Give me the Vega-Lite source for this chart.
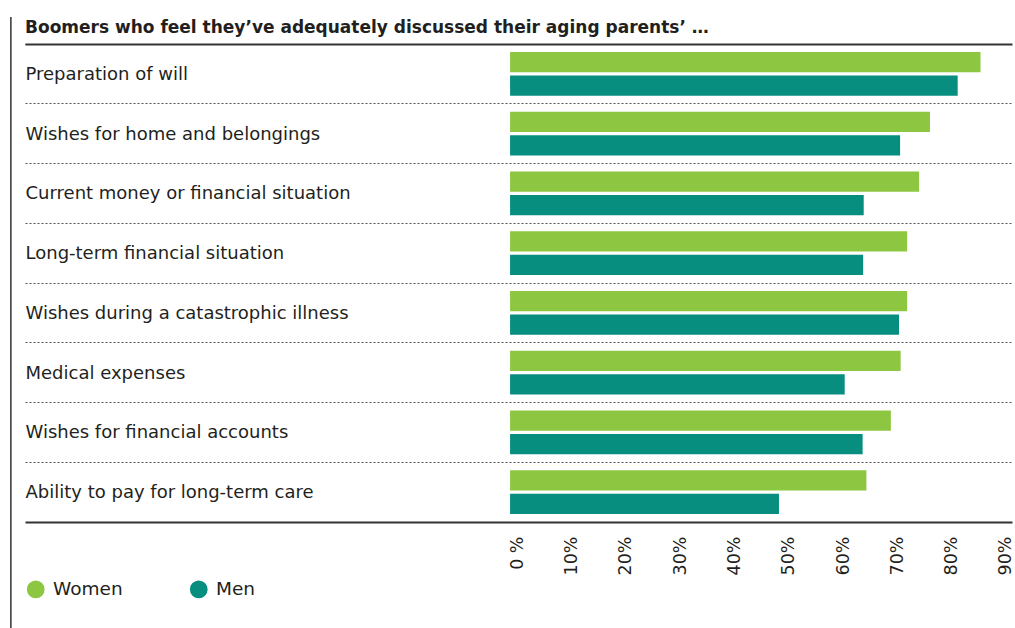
{
  "$schema": "https://vega.github.io/schema/vega-lite/v6.json",
  "width": 987,
  "height": 478,
  "autosize": {"type": "none"},
  "padding": {"left": 25, "top": 44, "right": 3, "bottom": 106},
  "title": {
    "text": "Boomers who feel they\u2019ve adequately discussed their aging parents\u2019 \u2026",
    "anchor": "start",
    "frame": "group",
    "font": "DejaVu Sans",
    "fontSize": 17,
    "fontWeight": "bold",
    "color": "#231F20",
    "baseline": "alphabetic",
    "offset": -15,
    "dy": 19
  },
  "config": {
    "view": {"stroke": null},
    "font": "DejaVu Sans"
  },
  "datasets": {
    "bars": [
      {"category": "Preparation of will", "gender": "Women", "value": 86.6},
      {"category": "Preparation of will", "gender": "Men", "value": 82.4},
      {"category": "Wishes for home and belongings", "gender": "Women", "value": 77.3},
      {"category": "Wishes for home and belongings", "gender": "Men", "value": 71.8},
      {"category": "Current money or financial situation", "gender": "Women", "value": 75.3},
      {"category": "Current money or financial situation", "gender": "Men", "value": 65.1},
      {"category": "Long-term financial situation", "gender": "Women", "value": 73.1},
      {"category": "Long-term financial situation", "gender": "Men", "value": 65.0},
      {"category": "Wishes during a catastrophic illness", "gender": "Women", "value": 73.1},
      {"category": "Wishes during a catastrophic illness", "gender": "Men", "value": 71.6},
      {"category": "Medical expenses", "gender": "Women", "value": 71.9},
      {"category": "Medical expenses", "gender": "Men", "value": 61.6},
      {"category": "Wishes for financial accounts", "gender": "Women", "value": 70.1},
      {"category": "Wishes for financial accounts", "gender": "Men", "value": 64.9},
      {"category": "Ability to pay for long-term care", "gender": "Women", "value": 65.6},
      {"category": "Ability to pay for long-term care", "gender": "Men", "value": 49.5}
    ]
  },
  "resolve": {"scale": {"y": "independent"}, "axis": {"x": "independent"}},
  "layer": [
    {
      "data": {"name": "bars"},
      "mark": {"type": "bar"},
      "encoding": {
        "y": {
          "field": "category",
          "type": "nominal",
          "sort": null,
          "scale": {"paddingInner": 0, "paddingOuter": 0},
          "axis": {
            "title": null,
            "bandPosition": 0,
            "grid": true,
            "gridDash": [2, 2],
            "gridColor": "#555555",
            "gridWidth": 1,
            "domain": false,
            "ticks": false,
            "labelAlign": "left",
            "labelBaseline": "middle",
            "labelPadding": 0,
            "labelOffset": 1,
            "labelFont": "DejaVu Sans",
            "labelFontSize": 18,
            "labelColor": "#231F20",
            "labelLimit": 0
          }
        },
        "yOffset": {
          "field": "gender",
          "type": "nominal",
          "sort": ["Women", "Men"],
          "scale": {"paddingInner": 0.13, "paddingOuter": 0.34}
        },
        "x": {
          "field": "value",
          "type": "quantitative",
          "stack": null,
          "scale": {"domain": [-89.3, 92.4], "nice": false, "zero": false},
          "axis": {
            "orient": "bottom",
            "title": null,
            "values": [0, 10, 20, 30, 40, 50, 60, 70, 80, 90],
            "labelExpr": "datum.value == 0 ? '0 %' : datum.value + '%'",
            "labelAngle": 270,
            "labelAlign": "right",
            "labelBaseline": "middle",
            "labelPadding": 14,
            "labelOffset": 7,
            "labelFont": "DejaVu Sans",
            "labelFontSize": 17.5,
            "labelColor": "#231F20",
            "ticks": false,
            "grid": false,
            "domain": true,
            "domainColor": "#333333",
            "domainWidth": 2,
            "labelFlush": false,
            "labelOverlap": false
          }
        },
        "x2": {"datum": 0},
        "color": {
          "field": "gender",
          "type": "nominal",
          "sort": ["Women", "Men"],
          "scale": {"domain": ["Women", "Men"], "range": ["#8DC641", "#078E7E"]},
          "legend": {
            "title": null,
            "orient": "none",
            "legendX": 1.5,
            "legendY": 536,
            "direction": "horizontal",
            "symbolType": "circle",
            "symbolSize": 314,
            "symbolStrokeWidth": 0,
            "symbolOpacity": 1,
            "labelFont": "DejaVu Sans",
            "labelFontSize": 18.5,
            "labelColor": "#231F20",
            "labelOffset": 8,
            "columnPadding": 66,
            "padding": 0
          }
        }
      }
    },
    {
      "data": {"values": [{}]},
      "mark": {"type": "rule", "color": "#333333", "strokeWidth": 1.5},
      "encoding": {
        "x": {
          "datum": -91.9,
          "type": "quantitative",
          "scale": {"domain": [-89.3, 92.4], "nice": false, "zero": false},
          "axis": {
            "orient": "top",
            "title": null,
            "labels": false,
            "ticks": false,
            "grid": false,
            "domain": true,
            "domainColor": "#333333",
            "domainWidth": 2,
            "minExtent": 0,
            "maxExtent": 0,
            "zindex": 1
          }
        },
        "y": {
          "datum": 1.0565,
          "type": "quantitative",
          "scale": {"domain": [0, 1], "nice": false, "zero": false},
          "axis": null
        },
        "y2": {"datum": -0.222}
      }
    }
  ]
}
